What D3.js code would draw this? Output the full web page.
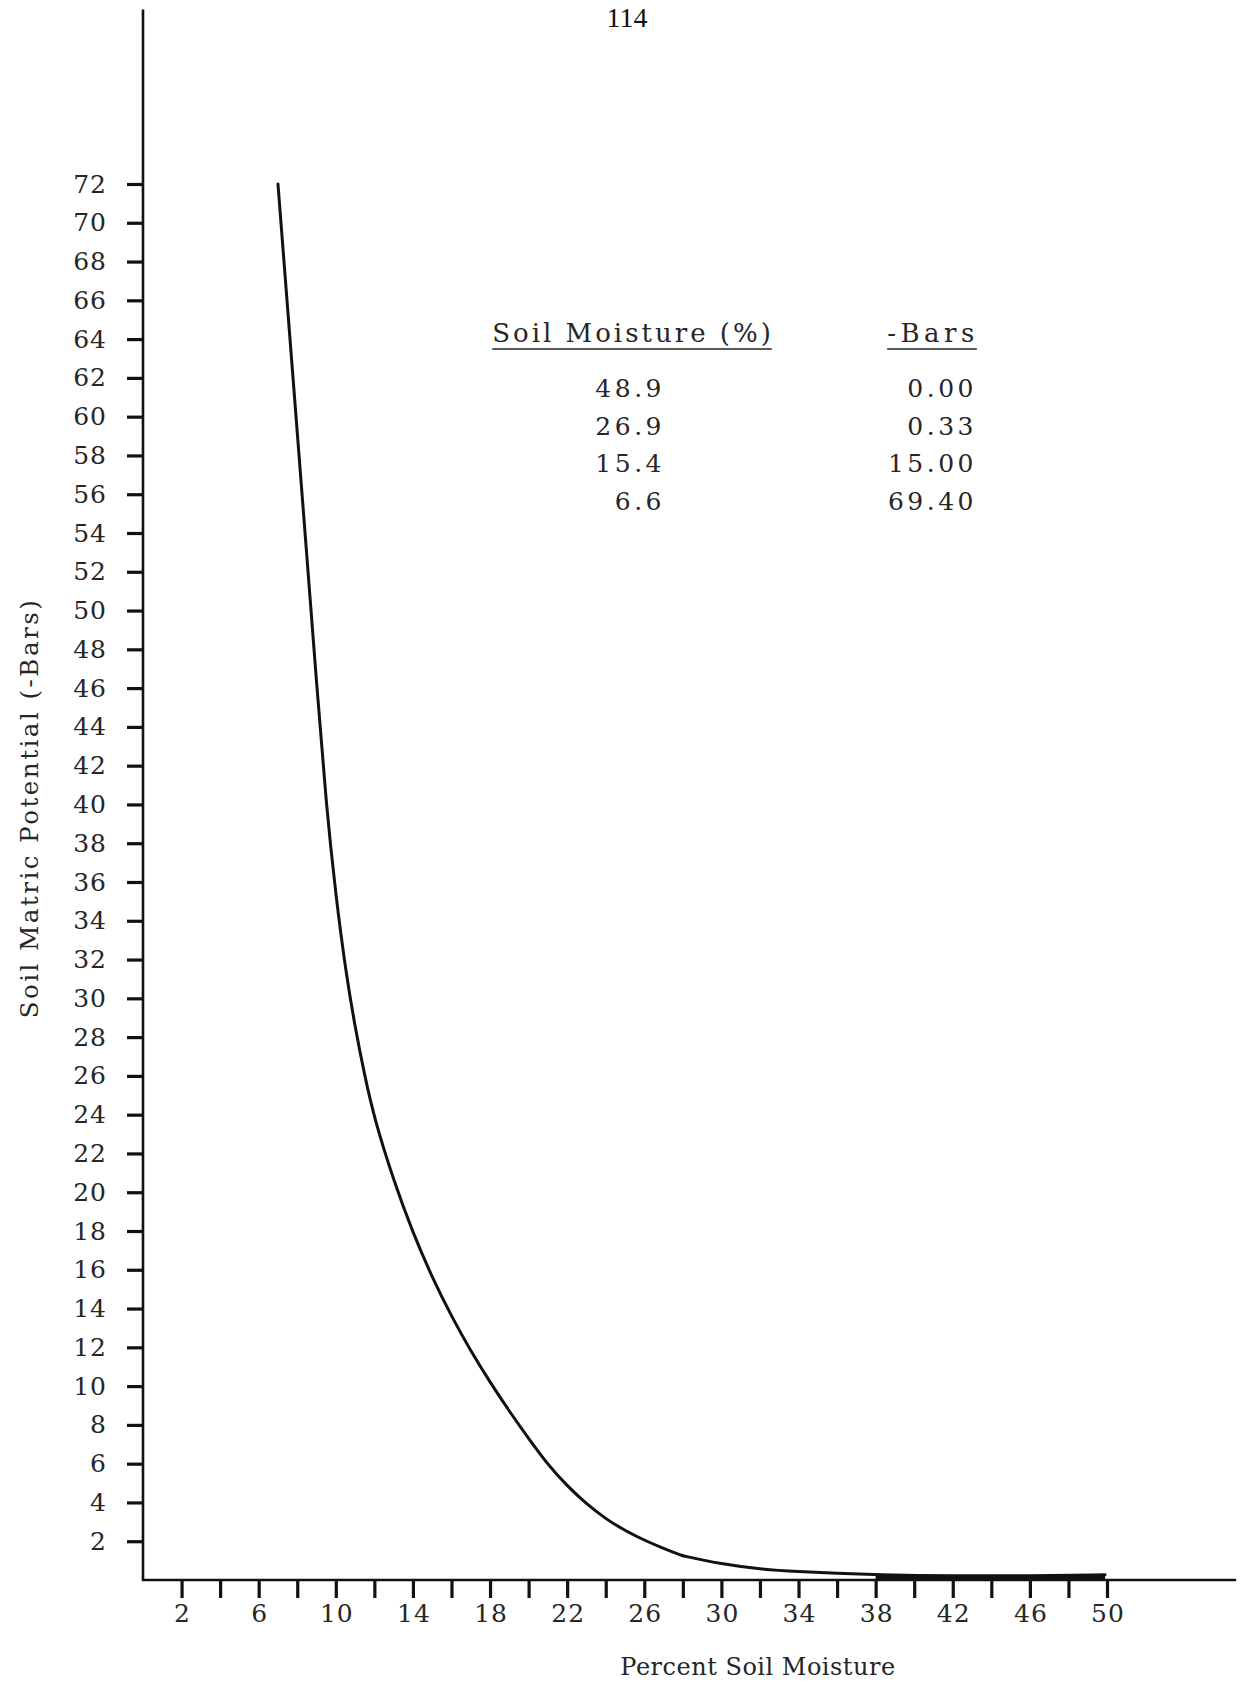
<!DOCTYPE html>
<html>
<head>
<meta charset="utf-8">
<script src="https://cdn.jsdelivr.net/npm/d3@7"></script>
<style>
  html, body { margin: 0; padding: 0; background: #fff; }
  svg { display: block; }
  text { fill: #262626; }
</style>
</head>
<body>
<script>
// Soil moisture release curve: matric potential (-bars) against percent soil moisture.
// The curve is drawn in two pieces that meet at the bend near 28 %.
const moistureSteep = [7.0, 7.5, 8.0, 8.5, 9.0, 9.5, 10.0, 10.5, 11.0, 11.5, 12.0, 13.0, 14.0, 15.0, 16.0,
                       17.0, 18.0, 19.0, 20.0, 21.0, 22.0, 23.0, 24.0, 25.0, 26.0, 27.0, 28.0];
const potentialSteep = [72.0, 65.6, 59.2, 52.8, 46.3, 40.0, 35.3, 31.5, 28.5, 26.0, 23.8, 20.6, 17.9, 15.6, 13.6,
                        11.8, 10.2, 8.7, 7.3, 5.95, 4.85, 3.92, 3.15, 2.55, 2.05, 1.63, 1.25];
const moistureFlat = [28.0, 30.0, 32.0, 34.0, 36.0, 38.0, 42.0, 46.0, 49.9];
const potentialFlat = [1.25, 0.82, 0.56, 0.43, 0.34, 0.27, 0.2, 0.22, 0.27];

// Measured points listed in the inset table
const tableMoisture = ["48.9", "26.9", "15.4", "6.6"];
const tableBars = ["0.00", "0.33", "15.00", "69.40"];

const xTicks = d3.range(2, 51, 2);       // 2, 4, ... 50
const xLabelled = d3.range(2, 51, 4);    // 2, 6, 10, ... 50
const yTicks = d3.range(2, 73, 2);       // 2, 4, ... 72

const pageNumber = "114";
const xTitle = "Percent Soil Moisture";
const yTitle = "Soil Matric Potential (-Bars)";
const headMoisture = "Soil Moisture (%)";
const headBars = "-Bars";

const W = 1242, H = 1684;
const svg = d3.select("body").append("svg").attr("width", W).attr("height", H);

const x = d3.scaleLinear().domain([0, 50]).range([143, 1107]);
const y = d3.scaleLinear().domain([0, 72]).range([1580, 184]);

const type = "'DejaVu Serif', 'Liberation Serif', serif";
const book = "'Liberation Serif', serif";

// page number at the top edge
svg.append("text")
  .attr("x", 627).attr("y", 27)
  .attr("text-anchor", "middle")
  .style("font-family", book).style("font-size", "28px")
  .style("fill", "#111")
  .text(pageNumber);

// Axis lines run beyond the labelled range
const yAxisTop = 81, xAxisRight = 56.7;
svg.append("line")
  .attr("x1", x(0)).attr("x2", x(0))
  .attr("y1", y(0) + 1).attr("y2", y(yAxisTop))
  .attr("stroke", "#111").attr("stroke-width", 2.6);
svg.append("line")
  .attr("x1", x(0) - 1).attr("x2", x(xAxisRight))
  .attr("y1", y(0)).attr("y2", y(0))
  .attr("stroke", "#111").attr("stroke-width", 2.6);

// Y axis ticks and labels
const yAxis = d3.axisLeft(y).tickValues(yTicks).tickSize(16).tickPadding(20).tickFormat(d3.format("d"));
const gy = svg.append("g").attr("transform", `translate(${x(0)},0)`).call(yAxis);
gy.select(".domain").remove();
gy.selectAll(".tick line").attr("stroke", "#111").attr("stroke-width", 3.2);
gy.selectAll(".tick text")
  .style("font-family", type).style("font-size", "25px").style("letter-spacing", "1px")
  .style("fill", "#262626");

// X axis ticks and labels
const xAxis = d3.axisBottom(x).tickValues(xTicks).tickSize(18).tickPadding(6)
  .tickFormat(d => xLabelled.includes(d) ? String(d) : "");
const gx = svg.append("g").attr("transform", `translate(0,${y(0)})`).call(xAxis);
gx.select(".domain").remove();
gx.selectAll(".tick line").attr("stroke", "#111").attr("stroke-width", 3.2);
gx.selectAll(".tick text")
  .style("font-family", type).style("font-size", "25px").style("letter-spacing", "1px")
  .attr("dx", "0.5px")
  .style("fill", "#262626");

// Axis titles
svg.append("text")
  .attr("x", 758).attr("y", 1675)
  .attr("text-anchor", "middle")
  .style("font-family", type).style("font-size", "24px").style("letter-spacing", "0.5px")
  .text(xTitle);

svg.append("text")
  .attr("transform", `translate(38,${808}) rotate(-90)`)
  .attr("text-anchor", "middle")
  .style("font-family", type).style("font-size", "24.5px").style("letter-spacing", "2.5px")
  .text(yTitle);

// Release curve
const line = d3.line().x(d => x(d.m)).y(d => y(d.p)).curve(d3.curveBasis);
const steep = moistureSteep.map((m, i) => ({ m, p: potentialSteep[i] }));
const flat = moistureFlat.map((m, i) => ({ m, p: potentialFlat[i] }));
[steep, flat].forEach(seg => {
  svg.append("path")
    .datum(seg)
    .attr("d", line)
    .attr("fill", "none")
    .attr("stroke", "#111")
    .attr("stroke-width", 3)
    .attr("stroke-linejoin", "round")
    .attr("stroke-linecap", "round");
});

// Heavier ink where the curve runs into the axis
const tail = flat.filter(d => d.m >= 38);
svg.append("path")
  .datum(tail)
  .attr("d", d3.area().x(d => x(d.m)).y0(y(0)).y1(d => y(d.p)).curve(d3.curveMonotoneX))
  .attr("fill", "#111");

// Inset table
const tbl = svg.append("g").style("font-family", type).style("font-size", "25px");
const h1 = tbl.append("text").attr("x", 633).attr("y", 342).attr("text-anchor", "middle")
  .style("font-size", "26px").style("letter-spacing", "3px").text(headMoisture);
const h2 = tbl.append("text").attr("x", 933).attr("y", 342).attr("text-anchor", "middle")
  .style("font-size", "26px").style("letter-spacing", "4.5px").text(headBars);
[h1, h2].forEach(h => {
  const b = h.node().getBBox();
  tbl.append("line")
    .attr("x1", b.x).attr("x2", b.x + b.width - 2)
    .attr("y1", 349).attr("y2", 349)
    .attr("stroke", "#222").attr("stroke-width", 1.6);
});
tableMoisture.forEach((t, i) => {
  tbl.append("text").attr("x", 665).attr("y", 397 + i * 37.7).attr("text-anchor", "end")
    .style("letter-spacing", "3.5px").text(t);
});
tableBars.forEach((t, i) => {
  tbl.append("text").attr("x", 977).attr("y", 397 + i * 37.7).attr("text-anchor", "end")
    .style("letter-spacing", "3.5px").text(t);
});
</script>
</body>
</html>
